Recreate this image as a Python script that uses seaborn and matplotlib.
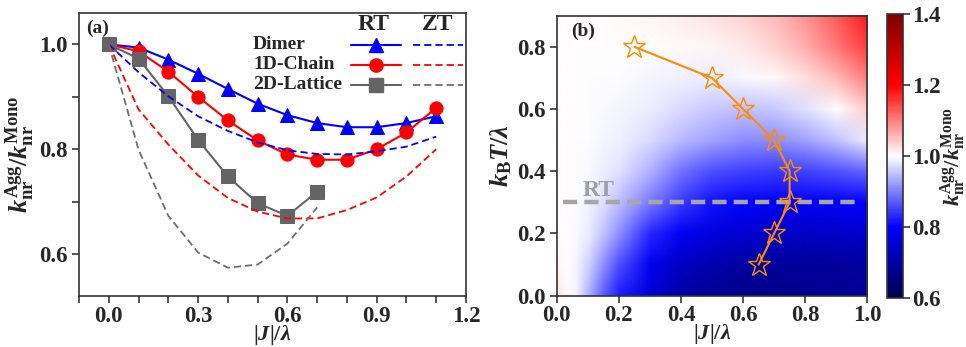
import numpy as np
import matplotlib
matplotlib.use("Agg")
import matplotlib.pyplot as plt
import seaborn as sns
from matplotlib.lines import Line2D
from matplotlib.font_manager import FontProperties
from matplotlib.ticker import MultipleLocator, FormatStrFormatter
from matplotlib.image import NonUniformImage
from matplotlib.colors import Normalize

# ---------------- Panel (a) data ----------------
J_full = [0.0, 0.1, 0.2, 0.3, 0.4, 0.5, 0.6, 0.7, 0.8, 0.9, 1.0, 1.1]
J_lattice = [0.0, 0.1, 0.2, 0.3, 0.4, 0.5, 0.6, 0.7]

dimer_rt = [1.0, 0.994, 0.971, 0.944, 0.915, 0.887, 0.865, 0.850, 0.842, 0.842, 0.850, 0.863]
chain_rt = [1.0, 0.987, 0.948, 0.900, 0.855, 0.817, 0.790, 0.780, 0.780, 0.800, 0.832, 0.879]
lattice_rt = [1.0, 0.973, 0.901, 0.818, 0.748, 0.697, 0.673, 0.719]

dimer_zt = [1.0, 0.947, 0.901, 0.863, 0.835, 0.813, 0.798, 0.791, 0.790, 0.796, 0.805, 0.824]
chain_zt = [1.0, 0.876, 0.809, 0.750, 0.707, 0.681, 0.668, 0.668, 0.684, 0.708, 0.748, 0.800]
lattice_zt = [1.0, 0.799, 0.673, 0.603, 0.574, 0.580, 0.620, 0.689]

series_names = ["Dimer", "1D-Chain", "2D-Lattice"]
column_heads = ["RT", "ZT"]

# ---------------- Panel (b) data ----------------
J_map = [0.0, 0.03, 0.06, 0.1, 0.15, 0.2, 0.3, 0.4, 0.5, 0.6, 0.7, 0.8, 0.9, 1.0]
T_map = [0.0, 0.1, 0.2, 0.3, 0.4, 0.5, 0.6, 0.7, 0.8, 0.9]
ratio_T00 = [1.02, 1.006, 0.993, 0.94, 0.87, 0.82, 0.755, 0.70, 0.68, 0.67, 0.67, 0.675, 0.68, 0.685]
ratio_T01 = [1.008, 1.002, 0.993, 0.965, 0.91, 0.86, 0.785, 0.735, 0.71, 0.695, 0.69, 0.69, 0.69, 0.695]
ratio_T02 = [1.0, 1.0, 0.995, 0.985, 0.95, 0.91, 0.83, 0.79, 0.765, 0.75, 0.74, 0.74, 0.74, 0.745]
ratio_T03 = [1.0, 1.0, 0.998, 0.988, 0.972, 0.948, 0.895, 0.845, 0.815, 0.80, 0.79, 0.79, 0.795, 0.80]
ratio_T04 = [1.0, 1.0, 0.998, 0.995, 0.985, 0.975, 0.94, 0.89, 0.86, 0.85, 0.845, 0.85, 0.865, 0.88]
ratio_T05 = [1.0, 1.0, 0.999, 0.997, 0.993, 0.988, 0.97, 0.945, 0.925, 0.912, 0.91, 0.925, 0.95, 0.985]
ratio_T06 = [1.0, 1.0, 1.0, 0.998, 0.996, 0.993, 0.985, 0.97, 0.958, 0.953, 0.957, 0.978, 0.998, 1.04]
ratio_T07 = [1.0, 1.0, 1.0, 0.999, 0.998, 0.997, 0.993, 0.99, 0.987, 0.995, 1.005, 1.025, 1.055, 1.10]
ratio_T08 = [1.0, 1.0, 1.0, 1.0, 1.0, 1.002, 1.003, 1.004, 1.008, 1.017, 1.035, 1.065, 1.105, 1.15]
ratio_T09 = [1.0, 1.0, 1.0, 1.0, 1.003, 1.005, 1.008, 1.013, 1.022, 1.036, 1.055, 1.085, 1.13, 1.18]

star_J = [0.25, 0.5, 0.6, 0.7, 0.75, 0.75, 0.7, 0.65]
star_T = [0.8, 0.7, 0.6, 0.5, 0.4, 0.3, 0.2, 0.1]
rt_T = 0.3
rt_J_span = [0.02, 0.977]

cbar_ticks = [0.6, 0.8, 1.0, 1.2, 1.4]

# ---------------- Style ----------------
sns.set_style("ticks")
plt.rcParams["font.family"] = ["Liberation Serif", "DejaVu Serif"]
plt.rcParams["font.weight"] = "bold"
plt.rcParams["mathtext.fontset"] = "custom"
plt.rcParams["mathtext.rm"] = "Liberation Serif:bold"
plt.rcParams["mathtext.it"] = "Liberation Serif:italic:bold"
plt.rcParams["mathtext.bf"] = "Liberation Serif:bold"
plt.rcParams["axes.edgecolor"] = "#333333"
plt.rcParams["axes.linewidth"] = 1.2

TICK_FS = 16.5
LABEL_FS = 19
XLABEL_FS = 16
KNR_LABEL = r"$k_{\rm nr}^{\rm Agg}/k_{\rm nr}^{\rm Mono}$"

fig = plt.figure(figsize=(9.66, 3.47), dpi=100)
ax1 = fig.add_axes([0.0818, 0.147, 0.4006, 0.8156])
ax2 = fig.add_axes([0.5763, 0.1478, 0.3215, 0.807])
cax = fig.add_axes([0.9179, 0.141, 0.0166, 0.818])

BLUE, RED, GRAY = "#0000ff", "#ff0000", "#646464"
GRAY_DASH = "#6e6e6e"
MS = 9.5

# ---------------- Panel (a) ----------------
sns.lineplot(x=J_full, y=dimer_rt, ax=ax1, color=BLUE, marker="^", markersize=MS,
             markeredgecolor=BLUE, linewidth=1.5, legend=False)
sns.lineplot(x=J_full, y=chain_rt, ax=ax1, color=RED, marker="o", markersize=MS,
             markeredgecolor=RED, linewidth=1.5, legend=False)
sns.lineplot(x=J_lattice, y=lattice_rt, ax=ax1, color=GRAY, marker="s", markersize=MS,
             markeredgecolor=GRAY, linewidth=1.5, legend=False)
dash = (0, (4, 2.2))
sns.lineplot(x=J_full, y=dimer_zt, ax=ax1, color=BLUE, linewidth=1.3, linestyle=dash, legend=False)
sns.lineplot(x=J_full, y=chain_zt, ax=ax1, color=RED, linewidth=1.3, linestyle=dash, legend=False)
sns.lineplot(x=J_lattice, y=lattice_zt, ax=ax1, color=GRAY_DASH, linewidth=1.3, linestyle=dash, legend=False)

ax1.set_xlim(-0.1, 1.2)
ax1.set_ylim(0.52, 1.06)
ax1.xaxis.set_major_locator(MultipleLocator(0.3))
ax1.xaxis.set_minor_locator(MultipleLocator(0.1))
ax1.yaxis.set_major_locator(MultipleLocator(0.2))
ax1.yaxis.set_minor_locator(MultipleLocator(0.1))
ax1.xaxis.set_major_formatter(FormatStrFormatter("%.1f"))
ax1.yaxis.set_major_formatter(FormatStrFormatter("%.1f"))
ax1.tick_params(which="both", direction="out", length=5, width=1.1, labelsize=TICK_FS, pad=3)
ax1.tick_params(axis="x", pad=2)
ax1.set_xlabel(r"$|J|/\lambda$", fontsize=XLABEL_FS, labelpad=-3)
ax1.set_ylabel(KNR_LABEL, fontsize=LABEL_FS, labelpad=2)
ax1.text(0.018, 0.945, "(a)", transform=ax1.transAxes, fontsize=14, fontweight="bold",
         ha="left", va="center")

# legend: handles only, labels drawn left-aligned as text at the handle rows
handles = [
    Line2D([], [], color=BLUE, marker="^", markersize=MS, lw=1.5),
    Line2D([], [], color=RED, marker="o", markersize=MS, lw=1.5),
    Line2D([], [], color=GRAY, marker="s", markersize=MS, lw=1.5),
    Line2D([], [], color=BLUE, lw=1.3, linestyle=dash),
    Line2D([], [], color=RED, lw=1.3, linestyle=dash),
    Line2D([], [], color=GRAY_DASH, lw=1.3, linestyle=dash),
]
leg = ax1.legend(handles, [""] * 6, ncol=2, frameon=False, loc="upper right",
                 bbox_to_anchor=(0.993, 0.906), borderaxespad=0, borderpad=0,
                 handlelength=3.6, handletextpad=0.0, columnspacing=0.86, labelspacing=0.5,
                 prop=FontProperties(family="Liberation Serif", weight="bold", size=10))
fig.canvas.draw()
renderer = fig.canvas.get_renderer()
inv = ax1.transAxes.inverted()
for name, h in zip(series_names, leg.legend_handles[:3]):
    bb = h.get_window_extent(renderer)
    yc = inv.transform((0, 0.5 * (bb.y0 + bb.y1)))[1]
    ax1.text(0.4496, yc, name, transform=ax1.transAxes, fontsize=14, fontweight="bold",
             ha="left", va="center")
for head, xx in zip(column_heads, [0.762, 0.926]):
    ax1.text(xx, 0.958, head, transform=ax1.transAxes, fontsize=17, fontweight="bold",
             ha="center", va="center")

# ---------------- Panel (b) ----------------
Z = np.array([ratio_T00, ratio_T01, ratio_T02, ratio_T03, ratio_T04,
              ratio_T05, ratio_T06, ratio_T07, ratio_T08, ratio_T09])
im = NonUniformImage(ax2, interpolation="bilinear", cmap="seismic",
                     norm=Normalize(vmin=0.6, vmax=1.4), extent=(0, 1.0, 0, 0.9))
im.set_data(np.array(J_map), np.array(T_map), Z)
ax2.add_image(im)

ax2.plot(rt_J_span, [rt_T, rt_T], color="#a6a6a6", lw=3.2, linestyle=(0, (3.2, 1.6)))
ax2.text(0.085, 0.337, "RT", color="#a0a0a0", fontsize=17, fontweight="bold",
         ha="left", va="center")
sns.lineplot(x=star_J, y=star_T, ax=ax2, sort=False, estimator=None, color="#ff8c00",
             linewidth=1.5, marker="*", markersize=17, markerfacecolor="none",
             markeredgecolor="#ff8c00", markeredgewidth=1.0, legend=False)
ax2.set_xlim(0, 1.0)
ax2.set_ylim(0, 0.9)
ax2.set_xticks([0.0, 0.2, 0.4, 0.6, 0.8, 1.0])
ax2.set_yticks([0.0, 0.2, 0.4, 0.6, 0.8])
ax2.xaxis.set_major_formatter(FormatStrFormatter("%.1f"))
ax2.yaxis.set_major_formatter(FormatStrFormatter("%.1f"))
ax2.tick_params(direction="out", length=5, width=1.1, labelsize=TICK_FS, pad=3)
ax2.tick_params(axis="x", pad=2)
ax2.set_xlabel(r"$|J|/\lambda$", fontsize=XLABEL_FS, labelpad=-3)
ax2.set_ylabel(r"$k_{\rm B}T/\lambda$", fontsize=LABEL_FS, labelpad=2)
ax2.text(0.045, 0.944, "(b)", transform=ax2.transAxes, fontsize=14, fontweight="bold",
         ha="left", va="center")

cb = fig.colorbar(im, cax=cax, ticks=cbar_ticks)
cb.ax.yaxis.set_major_formatter(FormatStrFormatter("%.1f"))
cb.ax.tick_params(direction="out", length=5, width=1.1, labelsize=TICK_FS, pad=2)
cb.outline.set_edgecolor("#333333")
cb.set_label(KNR_LABEL, fontsize=16, labelpad=-2)

fig.savefig("out.png", dpi=100)
